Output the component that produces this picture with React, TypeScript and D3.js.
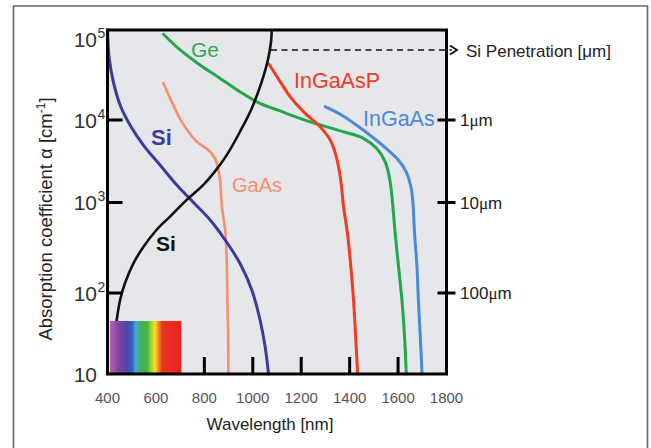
import React from "react";
import * as d3 from "d3";

// ---- data ----
const xTicks = [400, 600, 800, 1000, 1200, 1400, 1600, 1800];
const yTickValues = [10, 100, 1000, 10000, 100000];
const yTickExp = ["", "2", "3", "4", "5"];
const depthTicks = [1, 10, 100];
const depthTickLabels = ["1", "10", "100"];

const siWl = [400, 407, 424, 452, 493, 548, 617, 686, 755, 824, 886, 947, 996, 1030, 1051, 1065];
const siAlpha = [1e5, 4.86e4, 2.67e4, 1.47e4, 8.7e3, 4.97e3, 2.85e3, 1.63e3, 1.0e3, 641, 385, 213, 108, 46.4, 21.7, 10];

const geWl = [631, 700, 782, 865, 947, 1030, 1113, 1154, 1237, 1292, 1374, 1457, 1512, 1547, 1567, 1578, 1588, 1602, 1616, 1626, 1634];
const geAlpha = [8.96e4, 6.0e4, 4.08e4, 2.9e4, 2.06e4, 1.53e4, 1.26e4, 1.14e4, 9.5e3, 8.5e3, 7.2e3, 6.0e3, 4.5e3, 3.1e3, 1.8e3, 938, 457, 195, 82, 31.8, 10];

const ingaaspWl = [1067, 1113, 1154, 1209, 1278, 1320, 1347, 1364, 1374, 1391, 1405, 1416, 1424, 1433];
const ingaaspAlpha = [4.19e4, 2.67e4, 1.82e4, 1.24e4, 8.3e3, 5.7e3, 3.4e3, 1.79e3, 938, 457, 195, 82, 31.8, 10];

const ingaasWl = [1299, 1373, 1456, 1539, 1601, 1634, 1654, 1662, 1668, 1678, 1684, 1691, 1699];
const ingaasAlpha = [1.41e4, 1.11e4, 7.57e3, 4.84e3, 3.27e3, 2.34e3, 1.5e3, 938, 457, 195, 82, 31.8, 10];

const gaasWl = [631, 665, 707, 769, 817, 844, 862, 872, 887, 893, 895, 898, 899];
const gaasAlpha = [2.56e4, 1.6e4, 9.5e3, 5.46e3, 4.33e3, 3.43e3, 2.15e3, 938, 457, 195, 82, 31.8, 10];

const siPenWl = [425, 438, 452, 472, 507, 548, 603, 658, 727, 796, 844, 893, 947, 996, 1037, 1064, 1076, 1078];
const siPenDepth = [400, 215, 122, 78, 47, 31, 20, 14.3, 9.3, 6.1, 4.2, 2.65, 1.39, 0.74, 0.375, 0.206, 0.13, 0.1];

const spectrumRange = [400, 705];

const FONT = "'Liberation Sans', Arial, sans-serif";

export default function App() {
  const x = d3.scaleLinear().domain([400, 1800]).range([107.5, 446.5]);
  const y = d3
    .scaleLog()
    .domain([10, 100, 1000, 10000, 100000])
    .range([374, 293, 202.5, 120, 30]);
  const yDepth = d3
    .scaleLog()
    .domain([1000, 100, 10, 1, 0.1])
    .range([374, 293, 202.5, 120, 30]);

  const line = d3
    .line<[number, number]>()
    .x((d) => x(d[0]))
    .y((d) => y(d[1]))
    .curve(d3.curveCatmullRom.alpha(0.5));
  const lineDepth = d3
    .line<[number, number]>()
    .x((d) => x(d[0]))
    .y((d) => yDepth(d[1]))
    .curve(d3.curveCatmullRom.alpha(0.5));

  const zip = (a: number[], b: number[]) => a.map((v, i) => [v, b[i]] as [number, number]);

  const series = [
    { d: zip(gaasWl, gaasAlpha), color: "#f5906c", w: 2.6 },
    { d: zip(siWl, siAlpha), color: "#3d3a9c", w: 3 },
    { d: zip(geWl, geAlpha), color: "#22a84a", w: 3 },
    { d: zip(ingaaspWl, ingaaspAlpha), color: "#f23c22", w: 3 },
    { d: zip(ingaasWl, ingaasAlpha), color: "#4a8ad6", w: 3 },
  ];

  const x0 = x(400), x1 = x(1800), yTop = y(1e5), yBot = y(10);
  const specX0 = x(spectrumRange[0]) + 2.5;
  const specX1 = x(spectrumRange[1]);

  return (
    <svg
      width={651}
      height={448}
      style={{ position: "absolute", left: 0, top: 0, background: "#fff" }}
    >
      <defs>
        <linearGradient id="spec" x1="0" x2="1" y1="0" y2="0">
          <stop offset="0" stopColor="#b462b4" />
          <stop offset="0.12" stopColor="#8242a2" />
          <stop offset="0.24" stopColor="#4a48aa" />
          <stop offset="0.31" stopColor="#3562c2" />
          <stop offset="0.36" stopColor="#3eaae2" />
          <stop offset="0.42" stopColor="#3fb262" />
          <stop offset="0.52" stopColor="#44b444" />
          <stop offset="0.58" stopColor="#a8d22e" />
          <stop offset="0.63" stopColor="#f2e422" />
          <stop offset="0.68" stopColor="#f28a22" />
          <stop offset="0.73" stopColor="#ea3424" />
          <stop offset="1" stopColor="#e82222" />
        </linearGradient>
      </defs>

      {/* outer frame */}
      <path d="M13.5,460 V6 H647.5 V460" fill="none" stroke="#666" strokeWidth={1.6} />

      {/* plot background */}
      <rect x={x0} y={yTop} width={x1 - x0} height={yBot - yTop} fill="#e5e7eb" />

      {/* dashed penetration pointer */}
      <line x1={271} x2={452} y1={50} y2={50} stroke="#111" strokeWidth={1.6} strokeDasharray="6,4.5" />
      <polyline points="450,45.5 457,50 450,54.5" fill="none" stroke="#111" strokeWidth={1.8} />

      {/* curves */}
      {series.map((s, i) => (
        <path key={i} d={line(s.d) || ""} fill="none" stroke={s.color} strokeWidth={s.w} strokeLinecap="round" />
      ))}
      <path d={lineDepth(zip(siPenWl, siPenDepth)) || ""} fill="none" stroke="#111" strokeWidth={2.6} />

      {/* bottom ticks */}
      {xTicks.slice(1, -1).map((t) => (
        <line key={t} x1={x(t)} x2={x(t)} y1={yBot} y2={yBot - 17} stroke="#000" strokeWidth={3} />
      ))}
      {/* left ticks */}
      {yTickValues.slice(1, -1).map((t) => (
        <line key={t} x1={x0} x2={x0 + 15} y1={y(t)} y2={y(t)} stroke="#000" strokeWidth={3} />
      ))}
      {/* right ticks */}
      {depthTicks.map((t) => (
        <line key={t} x1={x1 - 9} x2={x1 + 9} y1={yDepth(t)} y2={yDepth(t)} stroke="#000" strokeWidth={3} />
      ))}

      {/* spectrum */}
      <rect x={specX0} y={321} width={specX1 - specX0} height={yBot - 321} fill="url(#spec)" />

      {/* frame */}
      <rect x={x0} y={yTop} width={x1 - x0} height={yBot - yTop} fill="none" stroke="#000" strokeWidth={3} />

      {/* y tick labels */}
      {yTickValues.map((t, i) => {
        const yy = y(t) + (t === 1e5 ? 9 : 0);
        return (
          <text key={t} x={97} y={yy + 7.5} fontFamily={FONT} fontSize={21} fill="#333" textAnchor="end">
            10
            {yTickExp[i] && (
              <tspan x={97.5} dy={-8.7} fontSize={14} textAnchor="start">
                {yTickExp[i]}
              </tspan>
            )}
          </text>
        );
      })}

      {/* x tick labels */}
      {xTicks.map((t) => (
        <text key={t} x={x(t)} y={403} fontFamily={FONT} fontSize={15} fill="#555" textAnchor="middle">
          {t}
        </text>
      ))}

      {/* right tick labels */}
      {depthTicks.map((t, i) => (
        <text key={t} x={460} y={yDepth(t) + 6} fontFamily={FONT} fontSize={17} fill="#222">
          {depthTickLabels[i]}
          <tspan fontFamily="'Liberation Serif', serif">μ</tspan>m
        </text>
      ))}

      {/* axis titles */}
      <text x={270} y={430} fontFamily={FONT} fontSize={17} fill="#222" textAnchor="middle">
        Wavelength [nm]
      </text>
      <text
        transform="translate(52,219) rotate(-90)"
        fontFamily={FONT}
        fontSize={18.5}
        fill="#222"
        textAnchor="middle"
      >
        Absorption coefficient α [cm
        <tspan dy={-7} fontSize={12}>-1</tspan>
        <tspan dy={7}>]</tspan>
      </text>
      <text x={466} y={57} fontFamily={FONT} fontSize={17} fill="#222">
        Si Penetration [μm]
      </text>

      {/* curve labels */}
      <text x={191} y={57} fontFamily={FONT} fontSize={21} fill="#2eaa50">Ge</text>
      <text x={294} y={88} fontFamily={FONT} fontSize={21.5} fill="#f23c22">InGaAsP</text>
      <text x={363} y={126} fontFamily={FONT} fontSize={21.5} fill="#4a8ad6">InGaAs</text>
      <text x={232} y={192} fontFamily={FONT} fontSize={20} fill="#f5906c">GaAs</text>
      <text x={151} y={145} fontFamily={FONT} fontSize={22} fontWeight="bold" fill="#3d3a9c">Si</text>
      <text x={156} y={251} fontFamily={FONT} fontSize={21} fontWeight="bold" fill="#111">Si</text>
    </svg>
  );
}
